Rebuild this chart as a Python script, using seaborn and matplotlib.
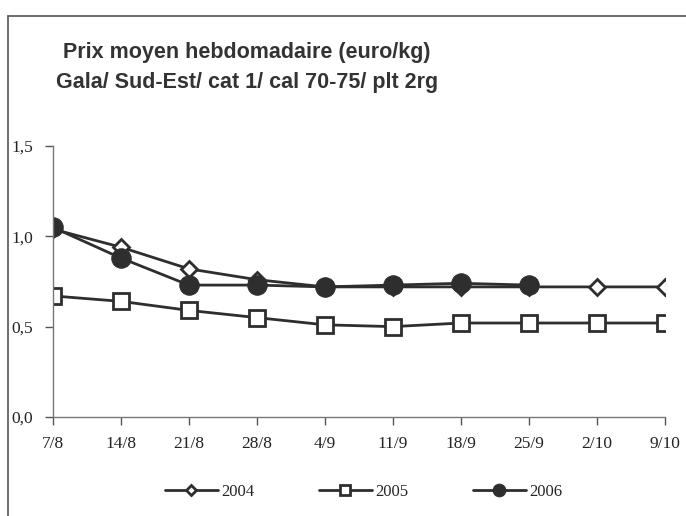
import pandas as pd
import seaborn as sns
import matplotlib.pyplot as plt
from matplotlib.lines import Line2D

# donnees
semaines = ["7/8", "14/8", "21/8", "28/8", "4/9", "11/9", "18/9", "25/9", "2/10", "9/10"]
prix_2004 = [1.04, 0.94, 0.82, 0.76, 0.72, 0.72, 0.72, 0.72, 0.72, 0.72]
prix_2005 = [0.67, 0.64, 0.59, 0.55, 0.51, 0.50, 0.52, 0.52, 0.52, 0.52]
prix_2006 = [1.05, 0.88, 0.73, 0.73, 0.72, 0.73, 0.74, 0.73]

sns.set_style("white")
plt.rcParams['font.family'] = ['Liberation Serif', 'DejaVu Serif']

fig = plt.figure(figsize=(6.86, 5.16), dpi=100)
ax = fig.add_axes([0.077, 0.192, 0.892, 0.525])

c = "#2e2e2e"
df04 = pd.DataFrame({"semaine": semaines, "prix": prix_2004})
df05 = pd.DataFrame({"semaine": semaines, "prix": prix_2005})
df06 = pd.DataFrame({"semaine": semaines[:len(prix_2006)], "prix": prix_2006})

sns.lineplot(data=df05, x="semaine", y="prix", ax=ax, sort=False, color=c, lw=2,
             marker="s", markersize=12, markerfacecolor="white", markeredgecolor=c,
             markeredgewidth=2, label="2005")
sns.lineplot(data=df04, x="semaine", y="prix", ax=ax, sort=False, color=c, lw=2,
             marker="D", markersize=8, markerfacecolor="white", markeredgecolor=c,
             markeredgewidth=2, label="2004")
sns.lineplot(data=df06, x="semaine", y="prix", ax=ax, sort=False, color=c, lw=2,
             marker="o", markersize=14, markerfacecolor=c, markeredgecolor=c,
             label="2006")

ax.set_xlim(0, len(semaines) - 1)
ax.set_ylim(0, 1.5)
ax.set_yticks([0, 0.5, 1.0, 1.5])
ax.set_yticklabels(["0,0", "0,5", "1,0", "1,5"])
ax.set_xlabel("")
ax.set_ylabel("")
ax.tick_params(axis="both", which="both", direction="out", length=6, width=1,
               color="#555555", labelsize=12.5, labelcolor="#222222", pad=8)
ax.tick_params(axis="y", left=True)
ax.tick_params(axis="x", bottom=True)
for s in ["top", "right"]:
    ax.spines[s].set_visible(False)
for s in ["left", "bottom"]:
    ax.spines[s].set_color("#777777")
    ax.spines[s].set_linewidth(1)

# titre
fig.text(0.36, 0.899, "Prix moyen hebdomadaire (euro/kg)", ha="center", va="center",
         fontsize=15.5, fontweight="bold", family="Liberation Sans", color="#333333")
fig.text(0.36, 0.841, "Gala/ Sud-Est/ cat 1/ cal 70-75/ plt 2rg", ha="center", va="center",
         fontsize=15.5, fontweight="bold", family="Liberation Sans", color="#333333")

# legende
h, l = ax.get_legend_handles_labels()
ordre = [l.index("2004"), l.index("2005"), l.index("2006")]
ax.legend([h[i] for i in ordre], [l[i] for i in ordre], loc="center",
          bbox_to_anchor=(0.53, 0.046), bbox_transform=fig.transFigure, ncol=3,
          frameon=False, fontsize=12, handlelength=3.2, columnspacing=3.85,
          markerscale=0.65, handletextpad=0.2)

# cadre
fig.add_artist(Line2D([0.011, 1.0], [0.969, 0.969], color="#555555", lw=1.2))
fig.add_artist(Line2D([0.011, 0.011], [0.0, 0.969], color="#555555", lw=1.2))

fig.savefig("out.png", dpi=100)
